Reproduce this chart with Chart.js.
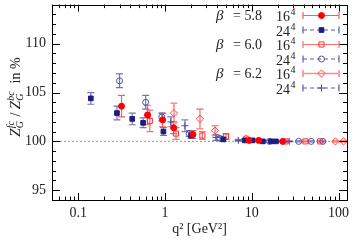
<!DOCTYPE html>
<html>
<head>
<meta charset="utf-8">
<script src="https://cdn.jsdelivr.net/npm/chart.js@4.4.0/dist/chart.umd.min.js"></script>
<style>
  html, body { margin: 0; padding: 0; background: #fff; }
  #out { display: block; }
</style>
</head>
<body>
<canvas id="out" width="354" height="245"></canvas>
<script>
// beta = 5.8, 16^4
const q2_58_16 = [0.316, 0.63, 0.94, 1.26, 2.1, 9.3, 12.0, 22.7];
const z_58_16 = [103.6, 102.7, 102.2, 101.4, 100.7, 100.1, 100.1, 100.0];
const err_58_16 = [1.1, 1.0, 0.7, 0.6, 0.4, 0.1, 0.1, 0.05];
// beta = 5.8, 24^4
const q2_58_24 = [0.14, 0.28, 0.42, 0.56, 0.96, 2.0, 4.7, 8.3, 10.2, 13.4, 16.7, 19.0];
const z_58_24 = [104.4, 102.9, 102.3, 101.9, 101.0, 100.6, 100.2, 100.1, 100.1, 100.0, 100.0, 100.0];
const err_58_24 = [0.6, 0.7, 0.6, 0.5, 0.4, 0.3, 0.2, 0.1, 0.1, 0.1, 0.05, 0.05];
// beta = 6.0, 16^4
const q2_60_16 = [0.67, 1.34, 2.7, 5.05, 24.5, 41.5, 61.3];
const z_60_16 = [102.1, 100.8, 100.6, 100.5, 100.0, 100.0, 100.0];
const err_60_16 = [1.1, 0.6, 0.4, 0.3, 0.1, 0.05, 0.05];
// beta = 6.0, 24^4
const q2_60_24 = [0.30, 0.60, 0.92, 1.9, 4.3, 16.0, 34.7, 48.3, 65.8];
const z_60_24 = [106.2, 104.0, 102.5, 100.8, 100.3, 100.0, 100.0, 100.0, 100.0];
const err_60_24 = [0.7, 0.7, 0.4, 0.3, 0.2, 0.1, 0.05, 0.05, 0.05];
// beta = 6.2, 16^4
const q2_62_16 = [1.27, 2.53, 3.77, 8.6, 92, 114];
const z_62_16 = [102.9, 102.3, 101.1, 100.3, 100.0, 100.0];
const err_62_16 = [1.0, 1.0, 0.5, 0.2, 0.05, 0.05];
// beta = 6.2, 24^4
const q2_62_24 = [1.17, 1.70, 3.87, 7.0, 27.0];
const z_62_24 = [102.0, 101.6, 100.4, 100.1, 100.0];
const err_62_24 = [0.5, 0.6, 0.3, 0.1, 0.05];

const betaLabels = ["5.8", "6.0", "6.2"];
const latticeLabels = ["16", "24"];
const xTickLabels = [0.1, 1, 10, 100];
const yTickLabels = [95, 100, 105, 110];

const serif = "'Liberation Serif', 'DejaVu Serif', serif";

function pts(xs, ys) {
    return xs.map((q, i) => ({ x: q, y: ys[i] }));
}

const datasets = [
    { label: "β = 5.8, 16⁴", data: pts(q2_58_16, z_58_16), errors: err_58_16,
      pointStyle: "circle", pointRadius: 3, backgroundColor: "#ff0000", borderColor: "#ff0000",
      errColor: "#ff5a5a", dashed: false },
    { label: "β = 5.8, 24⁴", data: pts(q2_58_24, z_58_24), errors: err_58_24,
      pointStyle: "rect", pointRadius: 3.3, backgroundColor: "#1c1c80", borderColor: "#1c1c80",
      errColor: "#7474b8", dashed: true },
    { label: "β = 6.0, 16⁴", data: pts(q2_60_16, z_60_16), errors: err_60_16,
      pointStyle: "rect", pointRadius: 3.6, backgroundColor: "rgba(0,0,0,0)", borderColor: "#ff3030",
      errColor: "#ff6e6e", dashed: false },
    { label: "β = 6.0, 24⁴", data: pts(q2_60_24, z_60_24), errors: err_60_24,
      pointStyle: "circle", pointRadius: 3, backgroundColor: "rgba(0,0,0,0)", borderColor: "#5050a8",
      errColor: "#7474b8", dashed: true },
    { label: "β = 6.2, 16⁴", data: pts(q2_62_16, z_62_16), errors: err_62_16,
      pointStyle: "rectRot", pointRadius: 3.6, backgroundColor: "rgba(0,0,0,0)", borderColor: "#ff4a4a",
      errColor: "#ff8c8c", errWidth: 1.6, dashed: false },
    { label: "β = 6.2, 24⁴", data: pts(q2_62_24, z_62_24), errors: err_62_24,
      pointStyle: "cross", pointRadius: 3.5, backgroundColor: "rgba(0,0,0,0)", borderColor: "#4848a0",
      errColor: "#8080c0", dashed: true }
];
datasets.forEach(d => { d.borderWidth = 1; d.pointHoverRadius = d.pointRadius; d.showLine = false; });

const errorBars = {
    id: "errorBars",
    beforeDatasetsDraw(chart) {
        const ctx = chart.ctx, xs = chart.scales.x, ys = chart.scales.y;
        ctx.save();
        chart.data.datasets.forEach(ds => {
            ctx.strokeStyle = ds.errColor;
            ctx.lineWidth = ds.errWidth || 1.2;
            ds.data.forEach((p, j) => {
                const px = xs.getPixelForValue(p.x);
                const top = ys.getPixelForValue(p.y + ds.errors[j]);
                const bot = ys.getPixelForValue(p.y - ds.errors[j]);
                ctx.beginPath();
                ctx.moveTo(px, top); ctx.lineTo(px, bot);
                ctx.moveTo(px - 3.5, top); ctx.lineTo(px + 3.5, top);
                ctx.moveTo(px - 3.5, bot); ctx.lineTo(px + 3.5, bot);
                ctx.stroke();
            });
        });
        // reference line at 100 %
        const y100 = ys.getPixelForValue(100);
        ctx.strokeStyle = "#9a9a9a";
        ctx.lineWidth = 1;
        ctx.setLineDash([2, 2]);
        ctx.beginPath();
        ctx.moveTo(chart.chartArea.left, y100);
        ctx.lineTo(chart.chartArea.right, y100);
        ctx.stroke();
        ctx.restore();
    }
};

// frame and inward ticks on all four sides
const frame = {
    id: "frame",
    afterDraw(chart) {
        const ctx = chart.ctx, a = chart.chartArea, xs = chart.scales.x, ys = chart.scales.y;
        ctx.save();
        ctx.strokeStyle = "#000";
        ctx.lineWidth = 1;
        ctx.beginPath();
        for (let e = -2; e <= 2; e++) {
            for (let k = 1; k <= 9; k++) {
                const v = k * Math.pow(10, e);
                if (v < xs.min || v > xs.max) continue;
                const px = Math.round(xs.getPixelForValue(v)) + 0.5;
                const len = k === 1 ? 7 : 3.5;
                ctx.moveTo(px, a.bottom); ctx.lineTo(px, a.bottom - len);
                ctx.moveTo(px, a.top); ctx.lineTo(px, a.top + len);
            }
        }
        for (let v = ys.min; v <= ys.max; v++) {
            const py = Math.round(ys.getPixelForValue(v)) + 0.5;
            const len = v % 5 === 0 ? 8 : 4;
            ctx.moveTo(a.left, py); ctx.lineTo(a.left + len, py);
            ctx.moveTo(a.right, py); ctx.lineTo(a.right - len, py);
        }
        ctx.stroke();
        ctx.strokeRect(Math.round(a.left) + 0.5, Math.round(a.top) + 0.5,
            Math.round(a.right - a.left), Math.round(a.bottom - a.top));
        ctx.restore();
    }
};

// legend: beta label, lattice size, sample line with error caps and marker
const legendBox = {
    id: "legendBox",
    afterDraw(chart) {
        const ctx = chart.ctx;
        const rowY = [15.5, 30, 44.5, 59, 73.5, 88];
        ctx.save();
        ctx.fillStyle = "#222";
        ctx.textBaseline = "middle";
        chart.data.datasets.forEach((ds, i) => {
            const y = rowY[i];
            if (i % 2 === 0) {
                ctx.font = "italic 15px " + serif;
                ctx.textAlign = "left";
                ctx.fillText("β", 216, y + 1);
                ctx.font = "14px " + serif;
                ctx.textAlign = "right";
                ctx.fillText("= " + betaLabels[i / 2], 262, y + 1);
            }
            ctx.font = "14px " + serif;
            ctx.textAlign = "left";
            const lab = latticeLabels[i % 2];
            ctx.fillText(lab, 276, y + 2);
            const w = ctx.measureText(lab).width;
            ctx.font = "10px " + serif;
            ctx.fillText("4", 276 + w + 0.5, y - 3);

            ctx.strokeStyle = ds.dashed ? "#5a5ab0" : ds.errColor;
            ctx.lineWidth = ds.errWidth || 1.2;
            ctx.setLineDash(ds.dashed ? [4, 3] : []);
            ctx.beginPath();
            ctx.moveTo(303, y); ctx.lineTo(339, y);
            ctx.stroke();
            ctx.setLineDash([]);
            ctx.beginPath();
            ctx.moveTo(303, y - 3.5); ctx.lineTo(303, y + 3.5);
            ctx.moveTo(339, y - 3.5); ctx.lineTo(339, y + 3.5);
            ctx.stroke();
            ctx.fillStyle = ds.backgroundColor;
            ctx.strokeStyle = ds.borderColor;
            ctx.lineWidth = 1;
            Chart.helpers.drawPoint(ctx, { pointStyle: ds.pointStyle, radius: ds.pointRadius,
                rotation: 0, borderWidth: 1 }, 321.5, y);
            ctx.fillStyle = "#222";
        });
        ctx.restore();
    }
};

// y axis title: Z_G^fc / Z_G^bc in %
const yTitle = {
    id: "yTitle",
    afterDraw(chart) {
        const ctx = chart.ctx;
        const parts = [
            { t: "Z", f: "italic 15px " + serif },
            { sup: "fc", sub: "G" },
            { t: " / ", f: "14px " + serif },
            { t: "Z", f: "italic 15px " + serif },
            { sup: "bc", sub: "G" },
            { t: "  in %", f: "14px " + serif }
        ];
        const small = "italic 10px " + serif;
        ctx.save();
        let total = 0;
        parts.forEach(p => {
            if (p.t) { ctx.font = p.f; p.w = ctx.measureText(p.t).width; }
            else {
                ctx.font = small;
                p.w = Math.max(ctx.measureText(p.sup).width, ctx.measureText(p.sub).width) + 1;
            }
            total += p.w;
        });
        ctx.translate(20, 97);
        ctx.rotate(-Math.PI / 2);
        ctx.fillStyle = "#222";
        ctx.textBaseline = "alphabetic";
        ctx.textAlign = "left";
        let x = -total / 2;
        parts.forEach(p => {
            if (p.t) { ctx.font = p.f; ctx.fillText(p.t, x, 0); }
            else {
                ctx.font = small;
                ctx.fillText(p.sup, x, -6);
                ctx.fillText(p.sub, x, 3);
            }
            x += p.w;
        });
        ctx.restore();
    }
};

const canvasCtx = document.getElementById("out").getContext("2d");
new Chart(canvasCtx, {
    type: "scatter",
    data: { datasets: datasets },
    options: {
        responsive: false,
        animation: false,
        layout: { padding: { top: 0.5, right: 7, left: 0, bottom: 0 } },
        plugins: { legend: { display: false }, tooltip: { enabled: false } },
        scales: {
            x: {
                type: "logarithmic",
                min: 0.05,
                max: 125,
                grid: { display: false, drawTicks: false },
                border: { display: false },
                ticks: {
                    autoSkip: false,
                    maxRotation: 0,
                    padding: 5,
                    color: "#222",
                    font: { family: serif, size: 14 },
                    callback: v => {
                        const hit = xTickLabels.find(t => Math.abs(t - v) < 1e-9 * Math.max(1, t));
                        return hit !== undefined ? String(hit) : "";
                    }
                },
                title: {
                    display: true,
                    text: "q² [GeV²]",
                    color: "#222",
                    font: { family: serif, size: 14 },
                    padding: { top: 0, bottom: 7 }
                },
                afterFit: s => { s.height = 45; s.paddingLeft = 0; s.paddingRight = 0; }
            },
            y: {
                min: 94,
                max: 114,
                grid: { display: false, drawTicks: false },
                border: { display: false },
                ticks: {
                    stepSize: 1,
                    autoSkip: false,
                    padding: 6,
                    color: "#222",
                    font: { family: serif, size: 14 },
                    callback: v => yTickLabels.includes(v) ? String(v) : ""
                },
                afterFit: s => { s.width = 52; s.paddingTop = 0; s.paddingBottom = 0; }
            }
        }
    },
    plugins: [errorBars, frame, legendBox, yTitle]
});
</script>
</body>
</html>
